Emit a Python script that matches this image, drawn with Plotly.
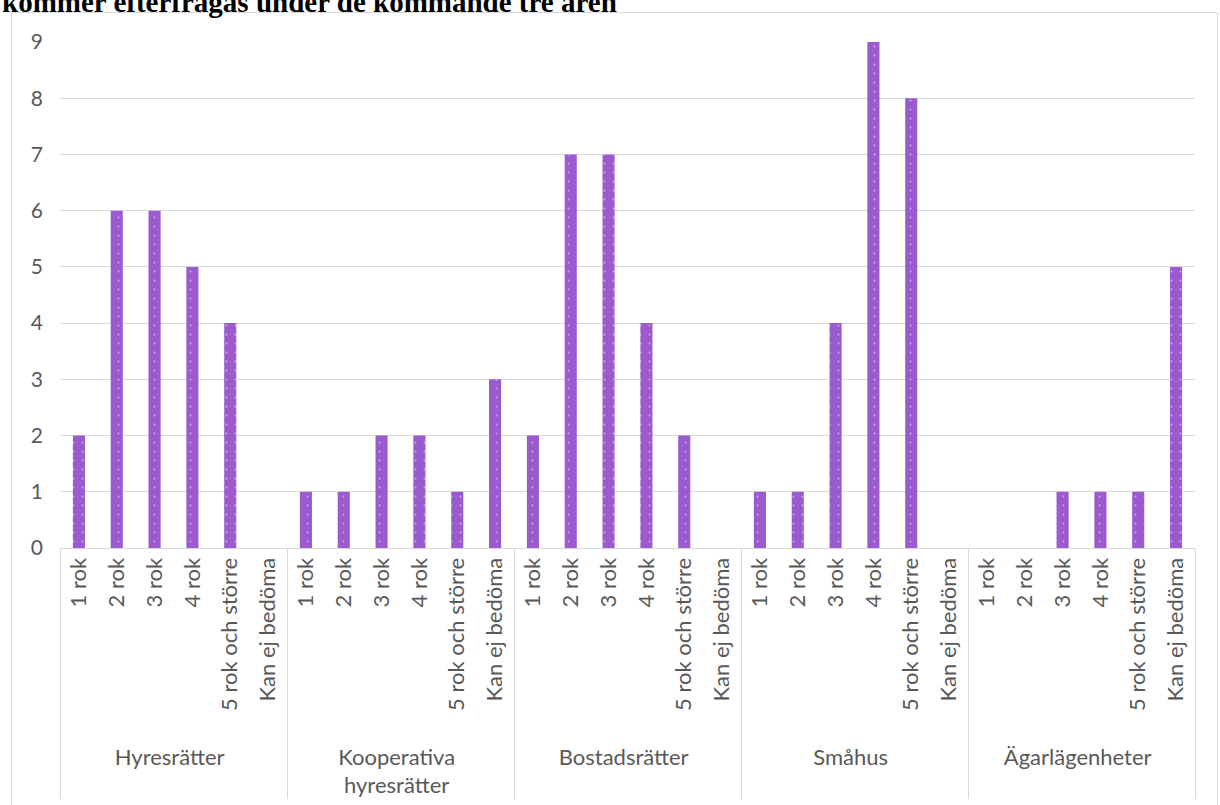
import plotly.graph_objects as go

groups = ["Hyresrätter", "Kooperativa<br>hyresrätter", "Bostadsrätter", "Småhus", "Ägarlägenheter"]
sizes = ["1 rok", "2 rok", "3 rok", "4 rok", "5 rok och större", "Kan ej bedöma"]
hyresratter = [2, 6, 6, 5, 4, 0]
kooperativa = [1, 1, 2, 2, 1, 3]
bostadsratter = [2, 7, 7, 4, 2, 0]
smahus = [1, 1, 4, 9, 8, 0]
agarlagenheter = [0, 0, 1, 1, 1, 5]
title_text = "kommer efterfrågas under de kommande tre åren"

series = [hyresratter, kooperativa, bostadsratter, smahus, agarlagenheter]
PAD = "\u00a0" * 2
x_outer, x_inner, y = [], [], []
for g, vals in zip(groups, series):
    for s, v in zip(sizes, vals):
        x_outer.append(g)
        x_inner.append(PAD + s)
        y.append(v)

PURPLE = "#9b5bcf"
GRID = "#d9d9d9"
TXT = "#595959"
FONT = "Lato"

fig = go.Figure()
fig.add_trace(go.Bar(
    x=[x_outer, x_inner], y=y,
    marker=dict(color=PURPLE, line=dict(width=0),
                pattern=dict(shape=".", fgcolor="white", bgcolor=PURPLE, size=9, solidity=0.03)),
    hoverinfo="x+y",
))

L, R, T, B = 60, 25, 42, 257
W, H = 1220, 805
pw, ph = W - L - R, H - T - B

def px2x(px):
    return (px - L) / pw

def py2y(py):
    return (H - B - py) / ph

fig.update_layout(
    width=W, height=H,
    margin=dict(l=L, r=R, t=T, b=B, autoexpand=False),
    paper_bgcolor="white", plot_bgcolor="white",
    bargap=0.68,
    showlegend=False,
    font=dict(family=FONT, size=22, color=TXT),
    xaxis=dict(
        type="multicategory", tickangle=-90, automargin=False,
        showline=True, linecolor=GRID, linewidth=1,
        showdividers=True, dividercolor=GRID, dividerwidth=1,
        showgrid=False, ticks="",
        tickfont=dict(family=FONT, size=22, color=TXT),
    ),
    yaxis=dict(
        range=[0, 9], dtick=1, tick0=0, automargin=False,
        showgrid=True, gridcolor=GRID, gridwidth=1,
        zeroline=False, showline=False, ticks="",
        ticklabelstandoff=16,
        tickfont=dict(family=FONT, size=21, color=TXT),
    ),
    shapes=[dict(type="rect", xref="paper", yref="paper",
                 x0=px2x(11.5), x1=px2x(1217.5), y0=py2y(812), y1=py2y(12.5),
                 line=dict(color=GRID, width=1), fillcolor="rgba(0,0,0,0)", layer="below")],
    annotations=[dict(text="<b>" + title_text + "</b>", xref="paper", yref="paper",
                      x=px2x(0), y=py2y(20), xanchor="left", yanchor="bottom",
                      showarrow=False,
                      font=dict(family="Liberation Serif", size=29, color="black"))],
)

fig.write_html("out.html", config={"displayModeBar": False},
               post_script="document.body.style.margin='0';document.body.style.padding='0';")
